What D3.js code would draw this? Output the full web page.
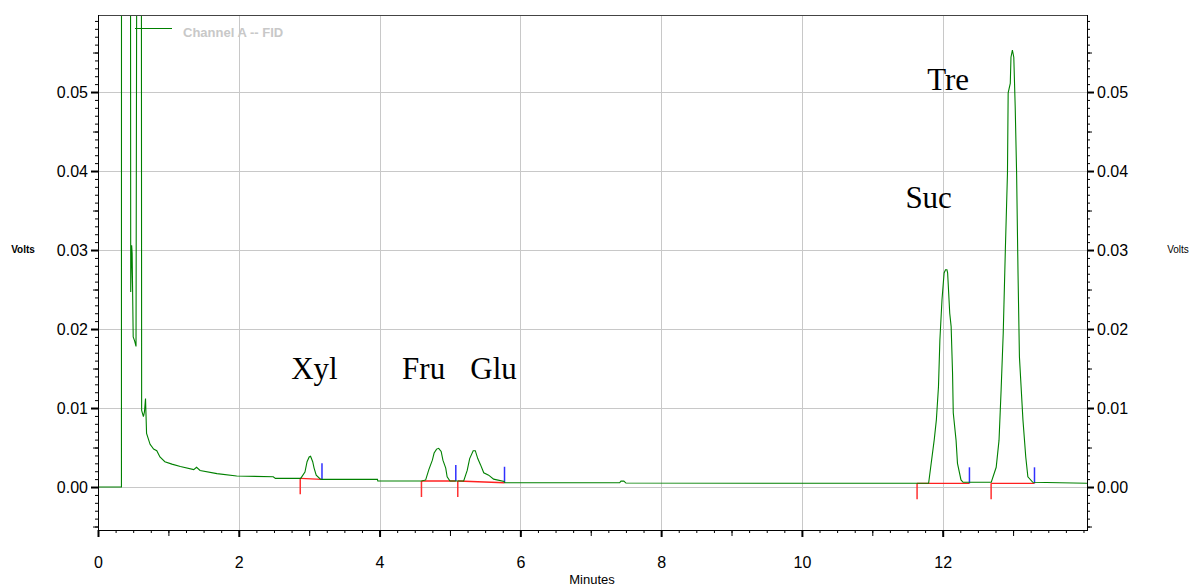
<!DOCTYPE html>
<html>
<head>
<meta charset="utf-8">
<script src="https://cdn.jsdelivr.net/npm/d3@7"></script>
<style>
  html, body { margin: 0; padding: 0; background: #fff; }
  svg { display: block; }
  text { font-family: "Liberation Sans", Arial, sans-serif; }
  text.peak { font-family: "Liberation Serif", "Times New Roman", serif; }
</style>
</head>
<body>
<svg id="chart" width="1189" height="587"></svg>
<script>
// ---------------- DATA ----------------
// Chromatogram trace: time (minutes) and detector signal (volts). 0.09 = off scale (clipped)
const traceTime = [
  0, 0.333, 0.334, 0.46, 0.465, 0.478, 0.485, 0.50, 0.52, 0.54, 0.555, 0.615,
  0.62, 0.645, 0.66, 0.675, 0.69, 0.74, 0.79, 0.835, 0.88, 0.95, 1.05, 1.17,
  1.36, 1.40, 1.45, 1.69, 1.97, 2.49, 2.52, 2.87,
  2.88, 2.94, 2.97, 3.00, 3.02, 3.05, 3.07, 3.10, 3.16, 3.19,
  3.97, 3.975, 4.60,
  4.655, 4.70, 4.75, 4.775, 4.81, 4.84, 4.875, 4.90, 4.94, 4.96, 5.00,
  5.195, 5.245, 5.28, 5.33, 5.36, 5.395, 5.435, 5.48, 5.55, 5.62, 5.77, 5.78,
  7.41, 7.43, 7.47, 7.50,
  11.80, 11.88, 11.91, 11.94, 11.96, 11.99, 12.02, 12.04, 12.06, 12.07, 12.10,
  12.12, 12.14, 12.15, 12.19, 12.21, 12.26, 12.29,
  12.69, 12.76, 12.80, 12.83, 12.86, 12.89, 12.92, 12.93, 12.96, 12.97, 12.99,
  13.01, 13.03, 13.05, 13.07, 13.09, 13.14, 13.18, 13.21, 13.28,
  14.05
];
const traceVolts = [
  0, 0, 0.09, 0.09, 0.0247, 0.0306, 0.0296, 0.0190, 0.0185, 0.0178, 0.09, 0.09,
  0.0097, 0.0089, 0.0095, 0.0112, 0.0068, 0.0054, 0.0048, 0.0046, 0.0038, 0.0032, 0.0029, 0.0026,
  0.0022, 0.0025, 0.0021, 0.0017, 0.0014, 0.0013, 0.0011, 0.0011,
  0.0011, 0.0019, 0.0032, 0.0038, 0.0039, 0.0032, 0.0024, 0.0015, 0.0010, 0.00097,
  0.00097, 0.00076, 0.00076,
  0.0009, 0.0022, 0.0034, 0.0043, 0.0048, 0.0049, 0.0045, 0.0034, 0.0024, 0.0013, 0.00076,
  0.00076, 0.0021, 0.0036, 0.0046, 0.0046, 0.0036, 0.0028, 0.0018, 0.0015, 0.0010, 0.0007, 0.00054,
  0.00054, 0.00075, 0.00075, 0.0005,
  0.00047, 0.0060, 0.0085, 0.0127, 0.0186, 0.0237, 0.0271, 0.0275, 0.0275, 0.0271, 0.0220,
  0.0203, 0.0144, 0.0094, 0.0059, 0.0030, 0.0009, 0.0006,
  0.0006, 0.0025, 0.0059, 0.0123, 0.0195, 0.0300, 0.0397, 0.0499, 0.0511, 0.0544, 0.0553,
  0.0544, 0.0481, 0.0397, 0.0271, 0.0165, 0.0085, 0.0038, 0.0013, 0.0006,
  0.00047
];

// Peak integration events (start = red, end = blue)
const peakNames = ["Xyl", "Fru", "Glu", "Suc", "Tre"];
const peakStart = [2.873, 4.595, 5.111, 11.636, 12.688];
const peakStartVolts = [0.0011, 0.00076, 0.00076, 0.00047, 0.00047];
const peakEnd = [3.182, 5.083, 5.775, 12.38, 13.304];
const peakEndVolts = [0.00097, 0.00076, 0.00054, 0.00047, 0.00047];

// Peak label anchors (time, volts) - left/baseline of the label text
const labelTime = [2.745, 4.32, 5.29, 11.47, 11.78];
const labelVolts = [0.01367, 0.01367, 0.01367, 0.0353, 0.0503];

// Axis ticks
const xTickLabels = [0, 2, 4, 6, 8, 10, 12];
const yTickLabels = [0, 0.01, 0.02, 0.03, 0.04, 0.05];
const xDomain = [0, 14.05];
const yDomain = [-0.00544, 0.05975];

// ---------------- LAYOUT ----------------
const L = 98, R = 1087, T = 15, B = 530;
const svg = d3.select("#chart");
const x = d3.scaleLinear().domain(xDomain).range([L, R]);
const y = d3.scaleLinear().domain(yDomain).range([B, T]);
const px = v => Math.round(v) + 0.5;

// grid
const grid = svg.append("g").attr("stroke", "#c8c8c8").attr("stroke-width", 1);
grid.selectAll("line.v").data(xTickLabels.filter(d => d > 0)).join("line")
  .attr("x1", d => px(x(d))).attr("x2", d => px(x(d)))
  .attr("y1", T).attr("y2", B);
grid.selectAll("line.h").data(yTickLabels).join("line")
  .attr("x1", L).attr("x2", R)
  .attr("y1", d => px(y(d))).attr("y2", d => px(y(d)));

// minor tick values
const yMinor = d3.range(-5, 60).map(i => i / 1000);
const yHalf = yMinor.filter(d => Math.round(d * 1000) % 5 === 0 && Math.round(d * 1000) % 10 !== 0);
const xMinor = d3.range(0, 57).map(i => i * 0.25).filter(d => d <= xDomain[1]);
const xOne = d3.range(1, 15, 2).filter(d => d <= xDomain[1]);

function styleAxis(g) {
  g.select(".domain").remove();
  g.selectAll("line").attr("stroke", "#000");
}

// left axis
svg.append("g").attr("transform", `translate(${L},0)`)
  .call(d3.axisLeft(y).tickValues(yMinor).tickSize(3).tickFormat(""))
  .call(styleAxis);
svg.append("g").attr("transform", `translate(${L},0)`)
  .call(d3.axisLeft(y).tickValues(yHalf).tickSize(5).tickFormat(""))
  .call(styleAxis);
const yl = svg.append("g").attr("transform", `translate(${L},0)`)
  .call(d3.axisLeft(y).tickValues(yTickLabels).tickSize(7).tickPadding(3).tickFormat(d3.format(".2f")))
  .call(styleAxis);
yl.selectAll("line").attr("stroke-width", 2);
yl.selectAll("text").attr("font-size", 16).attr("fill", "#000");

// right axis
svg.append("g").attr("transform", `translate(${R},0)`)
  .call(d3.axisRight(y).tickValues(yMinor).tickSize(3).tickFormat(""))
  .call(styleAxis);
svg.append("g").attr("transform", `translate(${R},0)`)
  .call(d3.axisRight(y).tickValues(yHalf).tickSize(5).tickFormat(""))
  .call(styleAxis);
const yr = svg.append("g").attr("transform", `translate(${R},0)`)
  .call(d3.axisRight(y).tickValues(yTickLabels).tickSize(7).tickPadding(3).tickFormat(d3.format(".2f")))
  .call(styleAxis);
yr.selectAll("line").attr("stroke-width", 2);
yr.selectAll("text").attr("font-size", 16).attr("fill", "#000");

// bottom axis
svg.append("g").attr("transform", `translate(0,${B})`)
  .call(d3.axisBottom(x).tickValues(xMinor).tickSize(3).tickFormat(""))
  .call(styleAxis);
svg.append("g").attr("transform", `translate(0,${B})`)
  .call(d3.axisBottom(x).tickValues(xOne).tickSize(6).tickFormat(""))
  .call(styleAxis);
const xb = svg.append("g").attr("transform", `translate(0,${B})`)
  .call(d3.axisBottom(x).tickValues(xTickLabels).tickSize(7).tickPadding(20).tickFormat(d3.format("d")))
  .call(styleAxis);
xb.selectAll("line").attr("stroke-width", 2);
xb.selectAll("text").attr("font-size", 16).attr("fill", "#000");

// frame
svg.append("line").attr("x1", L).attr("x2", R).attr("y1", T + 0.5).attr("y2", T + 0.5).attr("stroke", "#444");
svg.append("line").attr("x1", L + 0.5).attr("x2", L + 0.5).attr("y1", T).attr("y2", B + 4).attr("stroke", "#000");
svg.append("line").attr("x1", R + 0.5).attr("x2", R + 0.5).attr("y1", T).attr("y2", B).attr("stroke", "#000");
svg.append("line").attr("x1", L).attr("x2", R + 1).attr("y1", B + 0.5).attr("y2", B + 0.5).attr("stroke", "#000");

// clip
svg.append("clipPath").attr("id", "clip").append("rect")
  .attr("x", L + 1).attr("y", T + 1).attr("width", R - L - 1).attr("height", B - T - 1);

const plot = svg.append("g").attr("clip-path", "url(#clip)");

// integration baselines (red) and event markers
const peaks = peakNames.map((n, i) => ({
  name: n, t0: peakStart[i], v0: peakStartVolts[i], t1: peakEnd[i], v1: peakEndVolts[i]
}));
const mk = plot.append("g");
mk.selectAll("line.base").data(peaks).join("line").attr("class", "base")
  .attr("x1", d => x(d.t0)).attr("y1", d => y(d.v0))
  .attr("x2", d => x(d.t1)).attr("y2", d => y(d.v1))
  .style("stroke", "#ff2020").style("stroke-width", 1.3);
mk.selectAll("line.st").data(peaks).join("line").attr("class", "st")
  .attr("x1", d => x(d.t0)).attr("x2", d => x(d.t0))
  .attr("y1", d => y(d.v0)).attr("y2", d => y(d.v0) + 16)
  .style("stroke", "#ff3030").style("stroke-width", 1.5);
mk.selectAll("line.en").data(peaks).join("line").attr("class", "en")
  .attr("x1", d => x(d.t1)).attr("x2", d => x(d.t1))
  .attr("y1", d => y(d.v1)).attr("y2", d => y(d.v1) - 16)
  .style("stroke", "#3030ff").style("stroke-width", 1.5);

// trace
const pts = traceTime.map((t, i) => [t, traceVolts[i]]);
plot.append("path").datum(pts)
  .attr("fill", "none").attr("stroke", "#008000").attr("stroke-width", 1.1)
  .attr("d", d3.line().x(d => x(d[0])).y(d => y(d[1])));

// legend
svg.append("line").attr("x1", 135).attr("x2", 172).attr("y1", 28.5).attr("y2", 28.5)
  .attr("stroke", "#008000").attr("stroke-width", 1);
svg.append("text").attr("x", 183).attr("y", 37).attr("font-size", 13).attr("font-weight", "bold")
  .attr("fill", "#c8c8c8").text("Channel A -- FID");

// peak labels
svg.selectAll("text.peak").data(peakNames).join("text")
  .attr("class", "peak")
  .attr("x", (d, i) => x(labelTime[i])).attr("y", (d, i) => y(labelVolts[i]))
  .attr("font-size", 31).attr("fill", "#000").text(d => d);

// axis titles
svg.append("text").attr("x", 23).attr("y", 253).attr("text-anchor", "middle")
  .attr("font-size", 10).attr("font-weight", "bold").attr("fill", "#000").text("Volts");
svg.append("text").attr("x", 1178).attr("y", 253).attr("text-anchor", "middle")
  .attr("font-size", 10).attr("fill", "#000").text("Volts");
svg.append("text").attr("x", 592).attr("y", 584).attr("text-anchor", "middle")
  .attr("font-size", 13).attr("fill", "#000").text("Minutes");
</script>
</body>
</html>
